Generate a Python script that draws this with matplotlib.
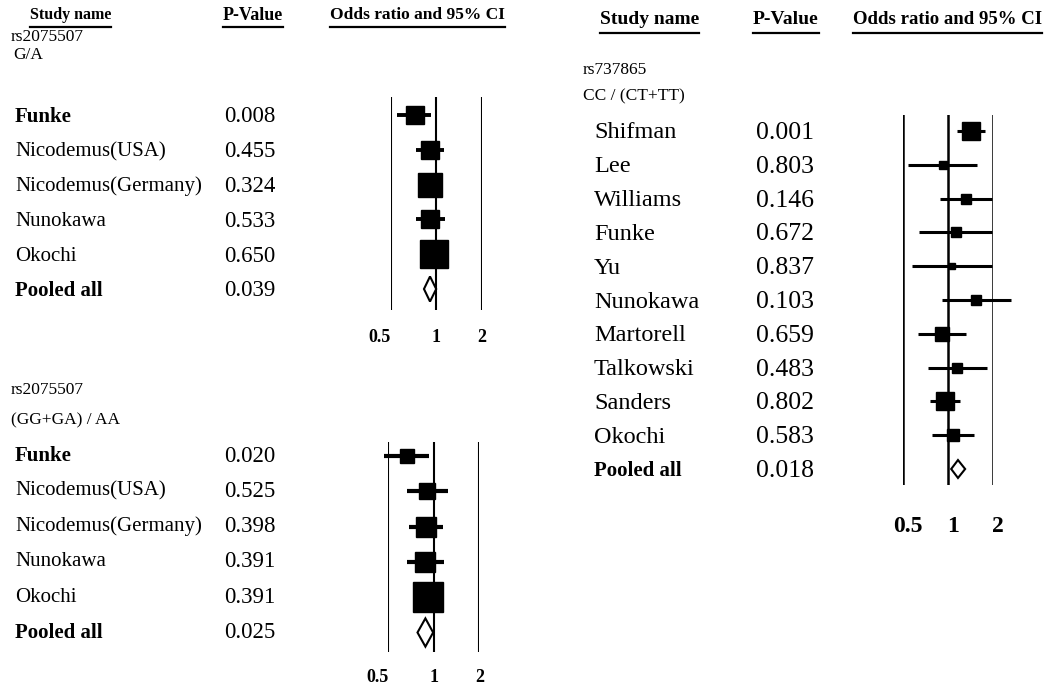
import matplotlib
matplotlib.use("Agg")
import numpy as np
import matplotlib.pyplot as plt
import matplotlib.transforms as mtransforms
from matplotlib.patches import Polygon
from matplotlib.lines import Line2D

# rs2075507 G/A
studies_a = ["Funke", "Nicodemus(USA)", "Nicodemus(Germany)", "Nunokawa", "Okochi"]
pvals_a = ["0.008", "0.455", "0.324", "0.533", "0.650"]
or_a = [0.72, 0.91, 0.91, 0.91, 0.96]
lo_a = [0.55, 0.73, 0.80, 0.74, 0.84]
hi_a = [0.92, 1.13, 1.05, 1.15, 1.10]
weight_a = [12.3, 13.8, 24.5, 13.8, 35.7]
pooled_a = [0.91, 0.83, 1.00]
pooled_p_a = "0.039"

# rs2075507 (GG+GA) / AA
studies_b = ["Funke", "Nicodemus(USA)", "Nicodemus(Germany)", "Nunokawa", "Okochi"]
pvals_b = ["0.020", "0.525", "0.398", "0.391", "0.391"]
or_b = [0.66, 0.895, 0.885, 0.88, 0.91]
lo_b = [0.47, 0.66, 0.69, 0.66, 0.80]
hi_b = [0.93, 1.24, 1.15, 1.17, 1.04]
weight_b = [10.3, 11.7, 18.3, 18.3, 41.3]
pooled_b = [0.88, 0.78, 0.99]
pooled_p_b = "0.025"

# rs737865 CC / (CT+TT)
studies_c = ["Shifman", "Lee", "Williams", "Funke", "Yu", "Nunokawa",
             "Martorell", "Talkowski", "Sanders", "Okochi"]
pvals_c = ["0.001", "0.803", "0.146", "0.672", "0.837", "0.103",
           "0.659", "0.483", "0.802", "0.583"]
or_c = [1.42, 0.92, 1.32, 1.125, 1.06, 1.54, 0.91, 1.15, 0.955, 1.08]
lo_c = [1.14, 0.545, 0.885, 0.64, 0.574, 0.91, 0.635, 0.74, 0.756, 0.78]
hi_c = [1.76, 1.57, 1.97, 1.97, 1.97, 2.63, 1.31, 1.81, 1.21, 1.50]
weight_c = [22.0, 4.3, 8.2, 5.5, 3.3, 6.8, 11.5, 6.8, 22.0, 9.8]
pooled_c = [1.165, 1.05, 1.30]
pooled_p_c = "0.018"

ticks = [0.5, 1, 2]
tick_labels = ["0.5", "1", "2"]

W, H = 1048, 691
plt.rcParams['font.family'] = 'Liberation Serif'
fig = plt.figure(figsize=(W / 100, H / 100), dpi=100)


def fx(x):
    return x / W


def fy(y):
    return 1 - y / H


def forest(x0, x1, ytop, ybot, r0, dr, names, pvals, ors, los, his, weights,
           pooled, pooled_p, name_x, p_x, name_size, p_size, bold_names,
           pooled_size, size_scale, whisker_lw, vline_lw, dia_h,
           tick_y, tick_size, tick_dx, first_ha, text_dy):
    ax = fig.add_axes([fx(x0), fy(ybot), fx(x1 - x0), (ybot - ytop) / H])
    ax.set_xscale('log')
    ax.set_xlim(0.5, 2)
    n = len(names)
    ax.set_ylim((ybot - r0) / dr, (ytop - r0) / dr)
    ax.axis('off')
    for v in ticks:
        ax.axvline(v, color='black', lw=vline_lw)

    for i in range(n):
        ax.plot([los[i], his[i]], [i, i], color='black', lw=whisker_lw,
                solid_capstyle='butt', clip_on=False)
        side = size_scale * np.sqrt(weights[i])
        ax.plot(ors[i], i, marker='s', color='black', markersize=side * 0.72,
                clip_on=False)

    # pooled diamond
    est, lo, hi = pooled
    yp = n
    dia = Polygon([(lo, yp), (est, yp - dia_h / 2), (hi, yp), (est, yp + dia_h / 2)],
                  closed=True, facecolor='white', edgecolor='black', lw=1.5,
                  zorder=5)
    ax.add_patch(dia)

    trans = mtransforms.blended_transform_factory(fig.transFigure, ax.transData)
    trans = trans + mtransforms.ScaledTranslation(0, -text_dy / 100, fig.dpi_scale_trans)
    for i in range(n):
        w = 'bold' if names[i] in bold_names else 'normal'
        fig.text(fx(name_x), i, names[i], transform=trans, fontsize=name_size,
                 fontweight=w, va='center', ha='left')
        fig.text(fx(p_x), i, pvals[i], transform=trans, fontsize=p_size,
                 va='center', ha='left')
    fig.text(fx(name_x), n, "Pooled all", transform=trans, fontsize=pooled_size,
             fontweight='bold', va='center', ha='left')
    fig.text(fx(p_x), n, pooled_p, transform=trans, fontsize=p_size,
             va='center', ha='left')

    ttrans = mtransforms.blended_transform_factory(ax.transData, fig.transFigure)
    ttrans = ttrans + mtransforms.ScaledTranslation(tick_dx / 100, 0, fig.dpi_scale_trans)
    for k, (v, lab) in enumerate(zip(ticks, tick_labels)):
        ha = first_ha if k == 0 else 'center'
        ax.text(v, fy(tick_y), lab, transform=ttrans, fontsize=tick_size,
                fontweight='bold', ha=ha, va='center', clip_on=False)
    return ax


forest(390.7, 481.7, 97, 310, 115, 34.8, studies_a, pvals_a, or_a, lo_a, hi_a,
       weight_a, pooled_a, pooled_p_a, 15, 224, 15, 16.5, ["Funke"], 15,
       4.85, 2.8, 1.5, 0.72, 337, 13, 0, 'right', 2)

forest(388.3, 479.3, 442, 652, 456, 35.3, studies_b, pvals_b, or_b, lo_b, hi_b,
       weight_b, pooled_b, pooled_p_b, 15, 224, 15, 16.5, ["Funke"], 15,
       4.67, 3.0, 1.5, 0.8, 677, 13, 0, 'right', 0)

forest(902.7, 993.3, 115, 485, 131, 33.8, studies_c, pvals_c, or_c, lo_c, hi_c,
       weight_c, pooled_c, pooled_p_c, 594, 756, 17.5, 18.5, [], 15,
       3.84, 2.2, 1.8, 0.53, 526, 17, 5, 'center', 2)

# subgroup labels
fig.text(fx(11), fy(37), "rs2075507", fontsize=12.5, va='center')
fig.text(fx(13), fy(55), "G/A", fontsize=12.5, va='center')
fig.text(fx(11), fy(390), "rs2075507", fontsize=12.5, va='center')
fig.text(fx(11), fy(420), "(GG+GA) / AA", fontsize=12.5, va='center')
fig.text(fx(583), fy(70), "rs737865", fontsize=12.5, va='center')
fig.text(fx(583), fy(96), "CC / (CT+TT)", fontsize=12.5, va='center')

# column headers: x, text, size, text y, underline y
header_specs = [(30, "Study name", 11.5, 15, 27), (223, "P-Value", 13, 15, 27),
                (330, "Odds ratio and 95% CI", 12.5, 15, 27),
                (600, "Study name", 14, 19, 33), (753, "P-Value", 14, 19, 33),
                (853, "Odds ratio and 95% CI", 13.5, 19, 33)]
headers = []
for x, lab, size, ty, uy in header_specs:
    t = fig.text(fx(x), fy(ty), lab, fontsize=size, fontweight='bold',
                 va='center', ha='left')
    headers.append((t, uy))

fig.canvas.draw()
renderer = fig.canvas.get_renderer()
for t, uy in headers:
    bb = t.get_window_extent(renderer).transformed(fig.transFigure.inverted())
    fig.add_artist(Line2D([bb.x0, bb.x1], [fy(uy), fy(uy)], color='black',
                          lw=1.6, transform=fig.transFigure))

fig.savefig("out.png", dpi=100, facecolor='white')
